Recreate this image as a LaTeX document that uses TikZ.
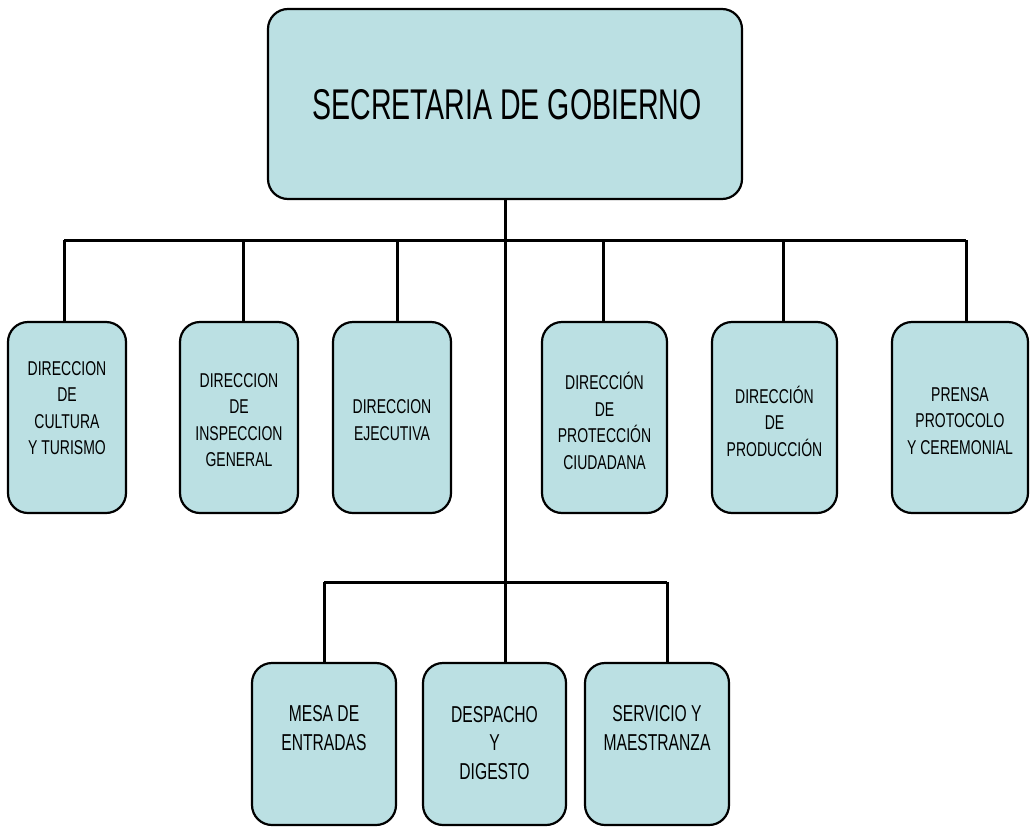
\documentclass[tikz,border=0pt]{standalone}
\usepackage{fontspec}
\setmainfont{Liberation Sans}[FakeStretch=0.7]
\newfontfamily\titlefont{Liberation Sans}[FakeStretch=0.663]
\newfontfamily\lowfont{Liberation Sans}[FakeStretch=0.68]
\definecolor{boxfill}{HTML}{BBE0E3}
\begin{document}
\begin{tikzpicture}[x=1pt,y=-1pt,
  box/.style={draw=black, line width=2.2pt, fill=boxfill, rounded corners=20pt, inner sep=0pt},
  lbl/.style={align=center, inner sep=0pt, font=\fontsize{20}{26.5}\selectfont},
  lblb/.style={align=center, inner sep=0pt, font=\lowfont\fontsize{23}{28.5}\selectfont},
  conn/.style={line width=3pt}]
\useasboundingbox (0,0) rectangle (1030,827);

% top
\node[box, minimum width=474pt, minimum height=190pt] (sec) at (505,104) {};
\node[inner sep=0pt, font=\titlefont\fontsize{43}{50}\selectfont] (sect) at (507,105) {SECRETARIA DE GOBIERNO};

% level 2 boxes
\node[box, minimum width=118pt, minimum height=191pt] (b1) at (67,417.5) {};
\node[box, minimum width=118pt, minimum height=191pt] (b2) at (239,417.5) {};
\node[box, minimum width=118pt, minimum height=191pt] (b3) at (392,417.5) {};
\node[box, minimum width=125pt, minimum height=191pt] (b4) at (604.5,417.5) {};
\node[box, minimum width=125pt, minimum height=191pt] (b5) at (774.5,417.5) {};
\node[box, minimum width=136pt, minimum height=191pt] (b6) at (960,417.5) {};

\node[lbl] (t1) at (67,408) {DIRECCION\\DE\\CULTURA\\Y TURISMO};
\node[lbl] (t2) at (239,420) {DIRECCION\\DE\\INSPECCION\\GENERAL};
\node[lbl] (t3) at (392,420) {DIRECCION\\EJECUTIVA};
\node[lbl] (t4) at (604.5,421) {DIRECCIÓN\\DE\\PROTECCIÓN\\CIUDADANA};
\node[lbl] (t5) at (774.5,421) {DIRECCIÓN\\DE\\PRODUCCIÓN};
\node[lbl] (t6) at (960,421) {PRENSA\\PROTOCOLO\\Y CEREMONIAL};

% level 3 boxes
\node[box, minimum width=144pt, minimum height=162pt] (c1) at (324,744) {};
\node[box, minimum width=143pt, minimum height=162pt] (c2) at (494.5,744) {};
\node[box, minimum width=144pt, minimum height=162pt] (c3) at (657,744) {};

\node[lblb] (u1) at (324,728) {MESA DE\\ENTRADAS};
\node[lblb] (u2) at (494.5,743) {DESPACHO\\Y\\DIGESTO};
\node[lblb] (u3) at (657,728) {SERVICIO Y\\MAESTRANZA};

% buses
\coordinate (d1) at (64,240);
\coordinate (d2) at (243,240);
\coordinate (d3) at (397,240);
\coordinate (d4) at (603,240);
\coordinate (d5) at (783,240);
\coordinate (d6) at (966,240);
\coordinate (e1) at (324,582);
\coordinate (e3) at (667,582);

\draw[conn] (sec.south) -- (sec.south |- c2.north);
\draw[conn] (d1) -- (d6);
\draw[conn] (e1) -- (e3);
\foreach \d/\b in {d1/b1,d2/b2,d3/b3,d4/b4,d5/b5,d6/b6}
  \draw[conn] (\d) -- (\d |- \b.north);
\draw[conn] (e1) -- (e1 |- c1.north);
\draw[conn] (e3) -- (e3 |- c3.north);
\end{tikzpicture}
\end{document}
